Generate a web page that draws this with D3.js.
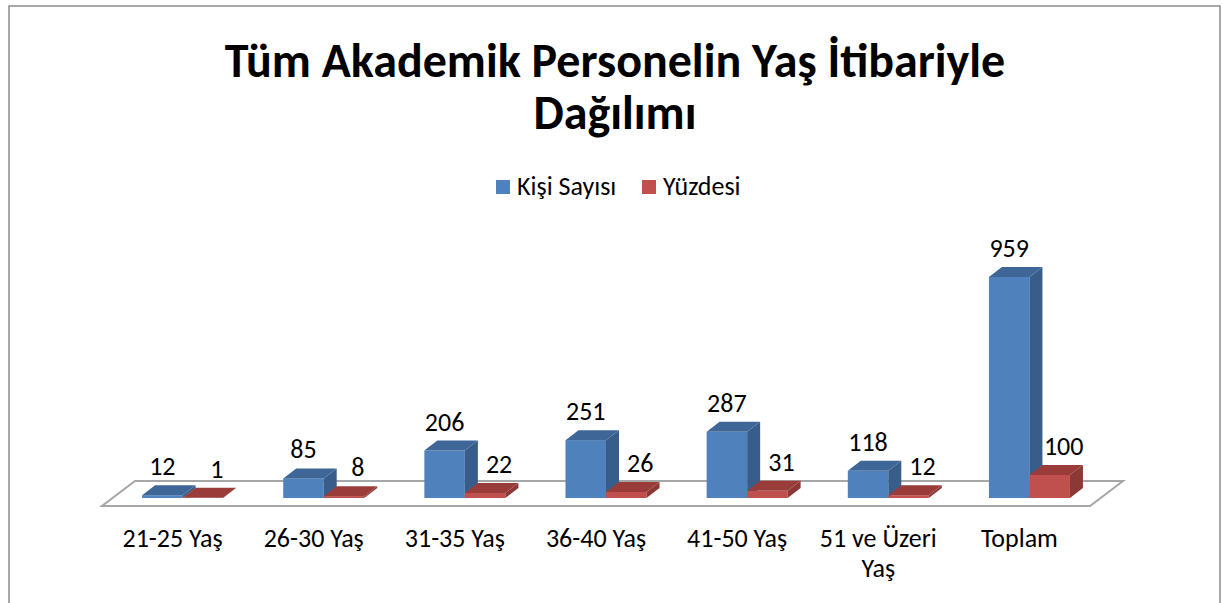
<!DOCTYPE html>
<html>
<head>
<meta charset="utf-8">
<script src="https://cdn.jsdelivr.net/npm/d3@7/dist/d3.min.js"></script>
<style>
  body { margin: 0; background: #fff; }
  svg { display: block; }
  text { font-family: Carlito, Lato, "Open Sans", sans-serif; }
</style>
</head>
<body>
<svg id="chart" width="1223" height="603"></svg>
<script>
// data
var categories = ["21-25 Yaş", "26-30 Yaş", "31-35 Yaş", "36-40 Yaş", "41-50 Yaş", "51 ve Üzeri Yaş", "Toplam"];
var kisiSayisi = [12, 85, 206, 251, 287, 118, 959];
var yuzdesi = [1, 8, 22, 26, 31, 12, 100];
var seriesNames = ["Kişi Sayısı", "Yüzdesi"];
var titleLines = ["Tüm Akademik Personelin Yaş İtibariyle", "Dağılımı"];

var colors = {
  front: ["#4f81bd", "#c0504d"],
  side: ["#385d8a", "#8c3836"],
  top: ["#3e6797", "#9a3d3a"]
};

var svg = d3.select("#chart");

// chart border
svg.append("rect")
  .attr("x", 9).attr("y", 6)
  .attr("width", 1211).attr("height", 620)
  .attr("fill", "none")
  .attr("stroke", "#8c8c8c")
  .attr("stroke-width", 1.5);

// title, one text with two lines
var title = svg.append("text")
  .attr("y", 77)
  .attr("text-anchor", "middle")
  .attr("font-size", 48).attr("font-weight", "bold");
title.selectAll("tspan")
  .data(titleLines)
  .enter().append("tspan")
  .attr("x", 615)
  .attr("dy", function(d, i) { return i === 0 ? 0 : 52; })
  .text(function(d) { return d; });

// legend
var legend = svg.append("g");
var legX = [496, 642];
seriesNames.forEach(function(name, i) {
  legend.append("rect")
    .attr("x", legX[i]).attr("y", 180)
    .attr("width", 14).attr("height", 14)
    .attr("fill", colors.front[i]);
  legend.append("text")
    .attr("x", legX[i] + 21).attr("y", 195)
    .attr("font-size", 26)
    .text(name);
});

// 3d geometry
var floorFront = 506;
var floorDx = 33, floorDy = -25;   // floor depth
var barDx = 13, barDy = -10;       // bar depth
var offDx = 10, offDy = -8;        // bars sit a bit behind the front edge

var x0 = d3.scaleBand().domain(categories).range([102, 1090]);
var x1 = d3.scaleBand().domain([0, 1]).range([0, 81]);
var h = d3.scaleLinear().domain([0, 1000]).range([0, 230.5]);

// floor
var fl = [[102, floorFront], [1090, floorFront],
          [1090 + floorDx, floorFront + floorDy], [102 + floorDx, floorFront + floorDy]];
svg.append("polygon")
  .attr("points", fl.map(function(p) { return p.join(","); }).join(" "))
  .attr("fill", "#fff")
  .attr("stroke", "#a6a6a6")
  .attr("stroke-width", 2);

var base = floorFront + offDy;
var bars = svg.append("g");
var labels = svg.append("g");

categories.forEach(function(c, ci) {
  var gx = x0(c) + x0.bandwidth() / 2 + offDx - 40.5;
  [kisiSayisi, yuzdesi].forEach(function(series, si) {
    var v = series[ci];
    var xl = gx + x1(si), xr = xl + x1.bandwidth();
    var yt = base - h(v);
    var g = bars.append("g");
    // front
    g.append("rect")
      .attr("x", xl).attr("y", yt)
      .attr("width", xr - xl).attr("height", base - yt)
      .attr("fill", colors.front[si]);
    // side
    g.append("polygon")
      .attr("points", [[xr, base], [xr + barDx, base + barDy], [xr + barDx, yt + barDy], [xr, yt]].join(" "))
      .attr("fill", colors.side[si]);
    // top
    g.append("polygon")
      .attr("points", [[xl, yt], [xr, yt], [xr + barDx, yt + barDy], [xl + barDx, yt + barDy]].join(" "))
      .attr("fill", colors.top[si]);

    labels.append("text")
      .attr("x", (xl + xr) / 2 + (si === 1 ? 14 : 0))
      .attr("y", yt + barDy - 10)
      .attr("text-anchor", "middle")
      .attr("font-size", 26)
      .text(v);
  });
});

// category labels, wrapped if too wide
var catG = svg.append("g");
categories.forEach(function(c) {
  var cx = x0(c) + x0.bandwidth() / 2;
  var t = catG.append("text")
    .attr("x", cx).attr("y", 547)
    .attr("text-anchor", "middle")
    .attr("font-size", 26);
  var words = c.split(" ");
  var line = [];
  var tspan = t.append("tspan").attr("x", cx).attr("dy", 0);
  words.forEach(function(w) {
    line.push(w);
    tspan.text(line.join(" "));
    if (tspan.node().getComputedTextLength() > 135 && line.length > 1) {
      line.pop();
      tspan.text(line.join(" "));
      line = [w];
      tspan = t.append("tspan").attr("x", cx).attr("dy", 30).text(w);
    }
  });
});
</script>
</body>
</html>
